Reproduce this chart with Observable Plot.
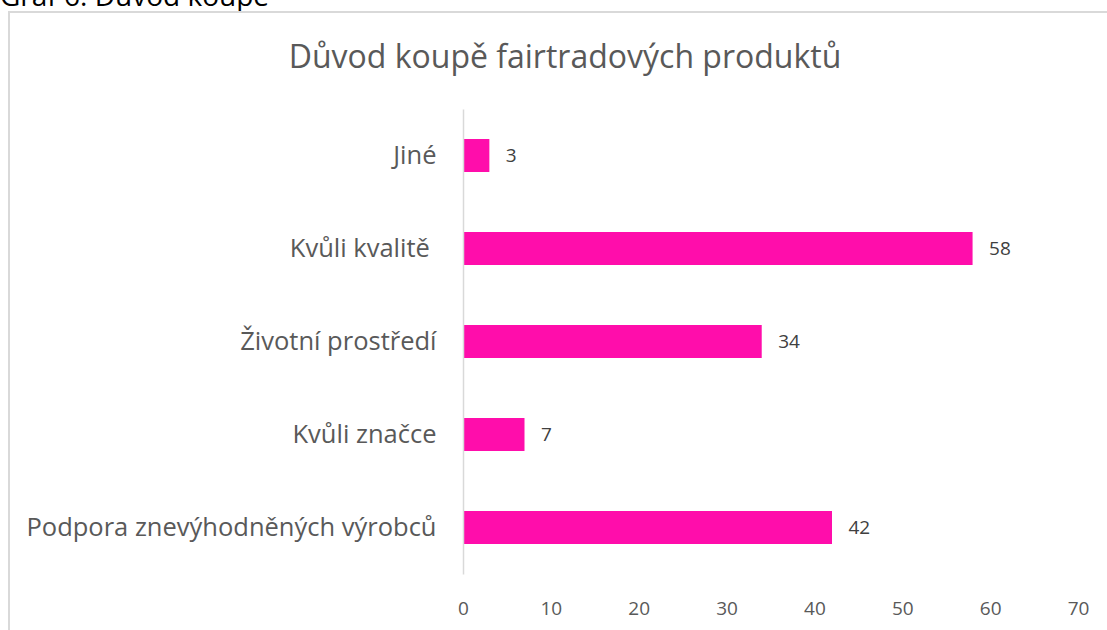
<!DOCTYPE html>
<html>
<head>
<meta charset="utf-8">
<script src="https://cdn.jsdelivr.net/npm/d3@7"></script>
<script src="https://cdn.jsdelivr.net/npm/@observablehq/plot@0.6"></script>
<style>
  html, body { margin: 0; padding: 0; background: #fff; overflow: hidden; width: 1107px; height: 630px; }
  body { position: relative; font-family: "Open Sans", sans-serif; }
  #caption { position: absolute; left: 0; top: -23px; font-size: 28px; line-height: 36px; color: #000; white-space: nowrap; }
  #frame { position: absolute; left: 8px; top: 11px; width: 1120px; height: 660px; border: 2px solid #d9d9d9; box-sizing: border-box; }
  #title { position: absolute; left: 0; width: 1130px; top: 34px; text-align: center; font-size: 32px; color: #595959; white-space: nowrap; }
  #chart { position: absolute; left: 0; top: 80px; }
  #chart svg text { white-space: pre; }
</style>
</head>
<body>
<div id="caption">Graf 6: Důvod koupě</div>
<div id="frame"></div>
<div id="title">Důvod koupě fairtradových produktů</div>
<div id="chart"></div>
<script>
const categories = ["Jiné", "Kvůli kvalitě ", "Životní prostředí", "Kvůli značce", "Podpora znevýhodněných výrobců"];
const values = [3, 58, 34, 7, 42];
const xTicks = [0, 10, 20, 30, 40, 50, 60, 70];

const data = categories.map((c, i) => ({category: c, value: values[i]}));

const chart = Plot.plot({
  width: 1107,
  height: 545,
  marginLeft: 463,
  marginRight: 29,
  marginTop: 29.5,
  marginBottom: 50.5,
  style: {fontFamily: "Open Sans, sans-serif", background: "transparent"},
  x: {domain: [0, 70], ticks: xTicks, label: null, tickSize: 0, tickPadding: 26},
  y: {domain: categories, label: null, paddingInner: 0.645, paddingOuter: 0.3225, tickSize: 0, tickPadding: 27},
  marks: [
    Plot.barX(data, {x: "value", y: "category", fill: "#ff0dab"}),
    Plot.ruleX([0], {stroke: "#d9d9d9", strokeWidth: 1.5}),
    Plot.text(data, {x: "value", y: "category", text: d => String(d.value), dx: 16, textAnchor: "start", fontSize: 19, fill: "#404040"}),
    Plot.axisX({ticks: xTicks, tickSize: 0, tickPadding: 26, fontSize: 19, color: "#595959", label: null}),
    Plot.axisY({tickSize: 0, tickPadding: 27, fontSize: 25.5, color: "#595959", label: null})
  ]
});
document.getElementById("chart").appendChild(chart);
</script>
</body>
</html>
